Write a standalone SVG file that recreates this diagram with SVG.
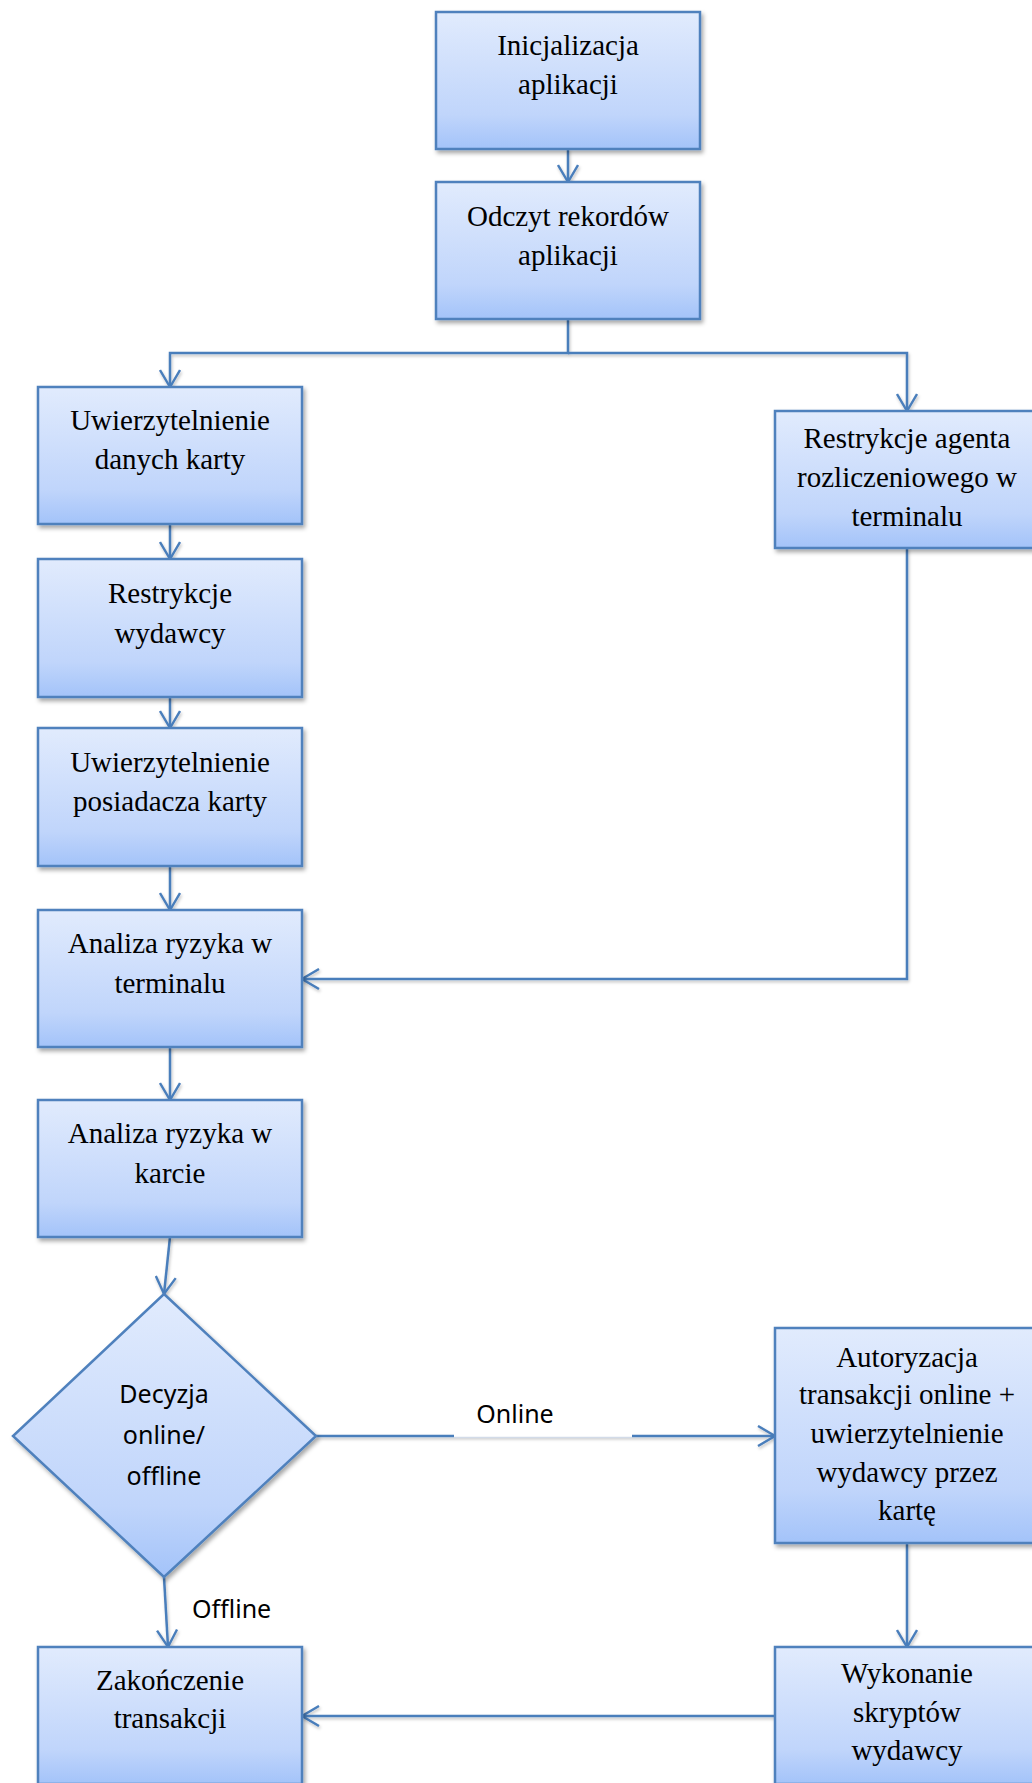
<svg xmlns="http://www.w3.org/2000/svg" width="1032" height="1783" viewBox="0 0 1032 1783">
<defs>
<linearGradient id="g" x1="0" y1="0" x2="0" y2="1">
<stop offset="0" stop-color="#e1ebfd"/>
<stop offset="0.75" stop-color="#c0d5fb"/>
<stop offset="1" stop-color="#a3c3f9"/>
</linearGradient>
<filter id="sh" x="-10%" y="-10%" width="125%" height="125%">
<feDropShadow dx="2" dy="3" stdDeviation="2" flood-color="#000" flood-opacity="0.35"/>
</filter>
<filter id="lsh" x="-10%" y="-10%" width="125%" height="125%">
<feDropShadow dx="1" dy="2" stdDeviation="1.5" flood-color="#000" flood-opacity="0.25"/>
</filter>
<marker id="ah" viewBox="0 0 20 22" refX="18" refY="11" markerWidth="20" markerHeight="22" markerUnits="userSpaceOnUse" orient="auto">
<path d="M1,1 L18,11 L1,21" fill="none" stroke="#4a7ebb" stroke-width="2.4"/>
</marker>
</defs>
<style>
.box{fill:url(#g);stroke:#4f81bd;stroke-width:2.5;filter:url(#sh)}
.t{font-family:"Liberation Serif","Times New Roman",serif;font-size:29px;fill:#000;text-anchor:middle}
.s{font-family:"Noto Sans","Open Sans",sans-serif;font-size:25px;fill:#000}
.c{fill:none;stroke:#4a7ebb;stroke-width:2.5}
</style>
<rect width="1032" height="1783" fill="#fff"/>

<g id="connectors" filter="url(#lsh)">
<path class="c" d="M568,149 V182" marker-end="url(#ah)"/>
<path class="c" d="M568,319 V353 H170 V387" marker-end="url(#ah)"/>
<path class="c" d="M568,353 H907 V411" marker-end="url(#ah)"/>
<path class="c" d="M170,524 V559" marker-end="url(#ah)"/>
<path class="c" d="M170,697 V728" marker-end="url(#ah)"/>
<path class="c" d="M170,866 V910" marker-end="url(#ah)"/>
<path class="c" d="M170,1047 V1100" marker-end="url(#ah)"/>
<path class="c" d="M907,548 V979 H302" marker-end="url(#ah)"/>
<path class="c" d="M170,1237 L164,1294" marker-end="url(#ah)"/>
<path class="c" d="M316,1436 H775" marker-end="url(#ah)"/>
<path class="c" d="M164,1577 L168,1647" marker-end="url(#ah)"/>
<path class="c" d="M907,1543 V1647" marker-end="url(#ah)"/>
<path class="c" d="M775,1716 H302" marker-end="url(#ah)"/>
</g>
<g id="label-online">
<rect x="454" y="1392" width="178" height="45" fill="#fff"/>
<line x1="454" y1="1437.5" x2="632" y2="1437.5" stroke="#d2dbe8" stroke-width="1.5"/>
<text class="s" x="515" y="1423" text-anchor="middle">Online</text>
</g>
<g id="label-offline">
<text class="s" x="192" y="1618">Offline</text>
</g>

<g id="n1"><rect class="box" x="436" y="12" width="264" height="137"/>
<text class="t" x="568" y="55">Inicjalizacja</text><text class="t" x="568" y="94">aplikacji</text></g>
<g id="n2"><rect class="box" x="436" y="182" width="264" height="137"/>
<text class="t" x="568" y="226">Odczyt rekordów</text><text class="t" x="568" y="265">aplikacji</text></g>
<g id="n3"><rect class="box" x="38" y="387" width="264" height="137"/>
<text class="t" x="170" y="430">Uwierzytelnienie</text><text class="t" x="170" y="469">danych karty</text></g>
<g id="n4"><rect class="box" x="38" y="559" width="264" height="138"/>
<text class="t" x="170" y="603">Restrykcje</text><text class="t" x="170" y="643">wydawcy</text></g>
<g id="n5"><rect class="box" x="38" y="728" width="264" height="138"/>
<text class="t" x="170" y="772">Uwierzytelnienie</text><text class="t" x="170" y="811">posiadacza karty</text></g>
<g id="n6"><rect class="box" x="38" y="910" width="264" height="137"/>
<text class="t" x="170" y="953">Analiza ryzyka w</text><text class="t" x="170" y="993">terminalu</text></g>
<g id="n7"><rect class="box" x="38" y="1100" width="264" height="137"/>
<text class="t" x="170" y="1143">Analiza ryzyka w</text><text class="t" x="170" y="1183">karcie</text></g>
<g id="n8"><rect class="box" x="775" y="411" width="264" height="137"/>
<text class="t" x="907" y="448">Restrykcje agenta</text><text class="t" x="907" y="487">rozliczeniowego w</text><text class="t" x="907" y="526">terminalu</text></g>
<g id="n9"><polygon class="box" points="164,1294 316,1436 164,1577 13,1436"/>
<text class="s" x="164" y="1403" text-anchor="middle">Decyzja</text><text class="s" x="164" y="1444" text-anchor="middle">online/</text><text class="s" x="164" y="1485" text-anchor="middle">offline</text></g>
<g id="n10"><rect class="box" x="775" y="1328" width="264" height="215"/>
<text class="t" x="907" y="1367">Autoryzacja</text><text class="t" x="907" y="1404">transakcji online +</text><text class="t" x="907" y="1443">uwierzytelnienie</text><text class="t" x="907" y="1482">wydawcy przez</text><text class="t" x="907" y="1520">kartę</text></g>
<g id="n11"><rect class="box" x="38" y="1647" width="264" height="137"/>
<text class="t" x="170" y="1690">Zakończenie</text><text class="t" x="170" y="1728">transakcji</text></g>
<g id="n12"><rect class="box" x="775" y="1647" width="264" height="137"/>
<text class="t" x="907" y="1683">Wykonanie</text><text class="t" x="907" y="1722">skryptów</text><text class="t" x="907" y="1760">wydawcy</text></g>
</svg>
